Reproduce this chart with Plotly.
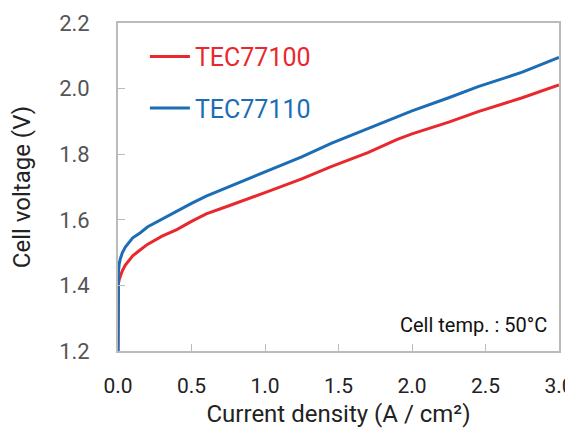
import plotly.graph_objects as go

current = [0, 0, 0.003, 0.008, 0.015, 0.03, 0.05, 0.1, 0.15, 0.2, 0.3, 0.4, 0.5, 0.6,
           0.75, 0.9, 1.0, 1.25, 1.45, 1.7, 1.9, 2.0, 2.25, 2.45, 2.75, 3.0]
v_tec77110 = [1.20, 1.40, 1.44, 1.465, 1.48, 1.50, 1.517, 1.545, 1.56, 1.578, 1.602, 1.628,
              1.65, 1.672, 1.70, 1.727, 1.745, 1.792, 1.833, 1.878, 1.916, 1.932, 1.972,
              2.006, 2.05, 2.095]
v_tec77100 = [1.20, 1.38, 1.405, 1.418, 1.427, 1.445, 1.462, 1.49, 1.508, 1.525, 1.55, 1.57,
              1.595, 1.618, 1.642, 1.666, 1.683, 1.725, 1.762, 1.805, 1.845, 1.862, 1.898,
              1.930, 1.972, 2.011]

x_ticks = [0.0, 0.5, 1.0, 1.5, 2.0, 2.5, 3.0]
y_ticks = [1.2, 1.4, 1.6, 1.8, 2.0, 2.2]

RED = "#e8282d"
BLUE = "#1c6db5"
FONT = "Roboto"

fig = go.Figure()
fig.add_trace(go.Scatter(
    x=current, y=v_tec77100, mode="lines", line=dict(color=RED, width=3),
    name=f"<span style='color:{RED}'>TEC77100</span>", legendgroup="a"))
fig.add_trace(go.Scatter(
    x=current, y=v_tec77110, mode="lines", line=dict(color=BLUE, width=3),
    name=f"<span style='color:{BLUE}'>TEC77110</span>", legendgroup="b"))

# page body has an 8px margin, so the figure is placed to compensate
fig.update_layout(
    width=573, height=428,
    margin=dict(l=110, r=22, t=15, b=85),
    plot_bgcolor="white", paper_bgcolor="white",
    font=dict(family=FONT, size=21, color="#222"),
    showlegend=True,
    legend=dict(x=0.061, y=0.967, xanchor="left", yanchor="top",
                bgcolor="rgba(0,0,0,0)", font=dict(size=25, family=FONT),
                tracegroupgap=16, itemwidth=40),
    xaxis=dict(range=[0, 3.0], tickvals=x_ticks, ticktext=[f"{v:.1f}" for v in x_ticks],
               ticks="inside", ticklen=7, tickcolor="#bbb", tickwidth=1.2,
               showline=True, linecolor="#bbb", linewidth=1.8, mirror=True,
               showgrid=False, zeroline=False, automargin=False,
               tickfont=dict(size=21, color="#222"), ticklabelstandoff=15,
               title=dict(text="Current density (A / cm²)", font=dict(size=24, color="#222"), standoff=8)),
    yaxis=dict(range=[1.2, 2.2], tickvals=y_ticks, ticktext=[f"{v:.1f}" for v in y_ticks],
               ticks="inside", ticklen=7, tickcolor="#bbb", tickwidth=1.2,
               showline=True, linecolor="#bbb", linewidth=1.8, mirror=True,
               showgrid=False, zeroline=False, automargin=False,
               tickfont=dict(size=22, color="#555"), ticklabelstandoff=22,
               title=dict(text="Cell voltage (V)", font=dict(size=24, color="#222"), standoff=22)),
    annotations=[dict(text="Cell temp. : 50°C", xref="paper", yref="paper", x=1, y=0,
                      xanchor="right", yanchor="bottom", xshift=-10, yshift=12,
                      showarrow=False, font=dict(size=20, color="#111", family=FONT))],
)

fig.write_html("out.html")
